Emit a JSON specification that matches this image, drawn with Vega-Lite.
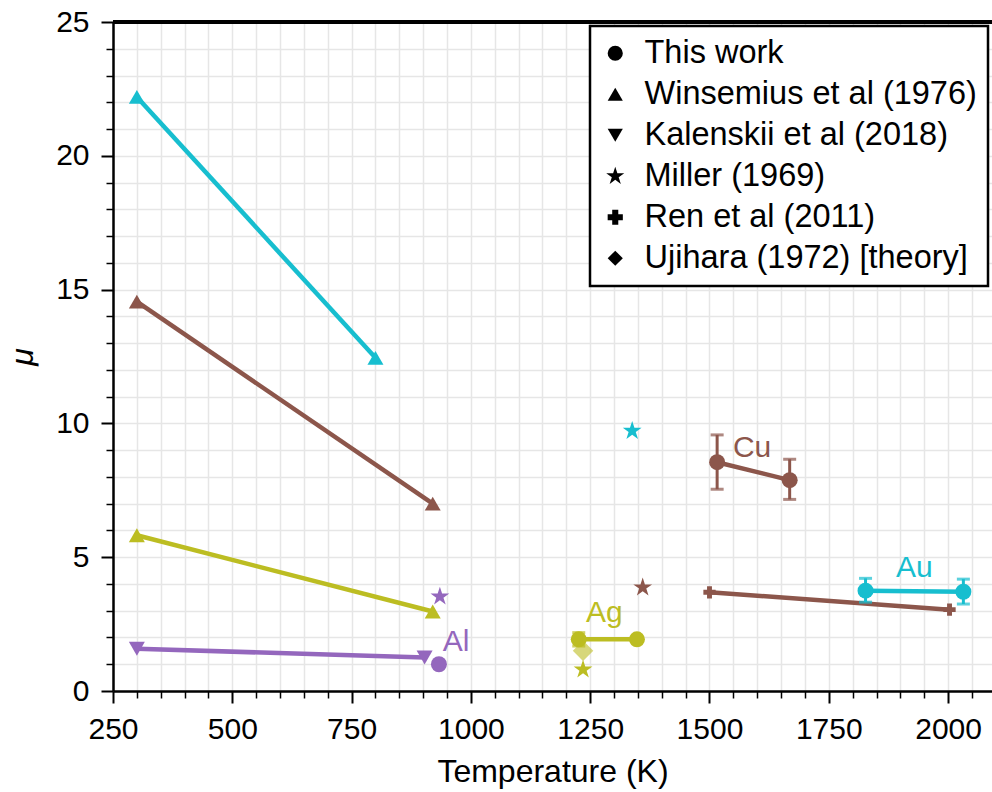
{
  "$schema": "https://vega.github.io/schema/vega-lite/v6.json",
  "width": 879,
  "height": 669,
  "autosize": {"type": "none"},
  "padding": {"left": 113, "top": 22, "right": 0, "bottom": 101},
  "background": "white",
  "config": {
    "view": {"stroke": null},
    "font": "Liberation Sans",
    "axis": {
      "labelFont": "Liberation Sans",
      "titleFont": "Liberation Sans",
      "labelColor": "black",
      "titleColor": "black",
      "titleFontWeight": "normal"
    },
    "legend": {
      "orient": "top-right",
      "offset": 4,
      "padding": 11,
      "rowPadding": 8,
      "labelFont": "Liberation Sans",
      "labelFontSize": 32.5,
      "labelColor": "black",
      "labelLimit": 0,
      "labelOffset": 13,
      "symbolOffset": -2,
      "symbolFillColor": "black",
      "symbolStrokeWidth": 0,
      "symbolSize": 230,
      "strokeColor": "black",
      "strokeWidth": 2.5,
      "fillColor": "white",
      "cornerRadius": 0
    }
  },
  "datasets": {
    "obs": [
      {"source": "This work", "element": "Al", "T": 933, "mu": 1.0},
      {"source": "This work", "element": "Ag", "T": 1226, "mu": 1.93, "lo": 1.68, "hi": 2.18},
      {"source": "This work", "element": "Ag", "T": 1348, "mu": 1.93},
      {"source": "This work", "element": "Cu", "T": 1516, "mu": 8.55, "lo": 7.54, "hi": 9.57},
      {"source": "This work", "element": "Cu", "T": 1668, "mu": 7.88, "lo": 7.16, "hi": 8.66},
      {"source": "This work", "element": "Au", "T": 1827, "mu": 3.75, "lo": 3.32, "hi": 4.21},
      {"source": "This work", "element": "Au", "T": 2032, "mu": 3.71, "lo": 3.25, "hi": 4.18},
      {"source": "Winsemius et al (1976)", "element": "Au", "T": 300, "mu": 22.2},
      {"source": "Winsemius et al (1976)", "element": "Au", "T": 800, "mu": 12.45},
      {"source": "Winsemius et al (1976)", "element": "Cu", "T": 300, "mu": 14.55},
      {"source": "Winsemius et al (1976)", "element": "Cu", "T": 920, "mu": 7.0},
      {"source": "Winsemius et al (1976)", "element": "Ag", "T": 300, "mu": 5.82},
      {"source": "Winsemius et al (1976)", "element": "Ag", "T": 920, "mu": 2.97},
      {"source": "Kalenskii et al (2018)", "element": "Al", "T": 300, "mu": 1.58},
      {"source": "Kalenskii et al (2018)", "element": "Al", "T": 903, "mu": 1.25},
      {"source": "Miller (1969)", "element": "Au", "T": 1338, "mu": 9.72},
      {"source": "Miller (1969)", "element": "Al", "T": 935, "mu": 3.53},
      {"source": "Miller (1969)", "element": "Cu", "T": 1360, "mu": 3.87},
      {"source": "Miller (1969)", "element": "Ag", "T": 1235, "mu": 0.8},
      {"source": "Ren et al (2011)", "element": "Cu", "T": 1500, "mu": 3.69},
      {"source": "Ren et al (2011)", "element": "Cu", "T": 2003, "mu": 3.04},
      {"source": "Ujihara (1972) [theory]", "element": "Ag", "T": 1235, "mu": 1.5}
    ],
    "tags": [
      {"element": "Al", "T": 941, "mu": 1.5},
      {"element": "Ag", "T": 1241, "mu": 2.58},
      {"element": "Cu", "T": 1549, "mu": 8.74},
      {"element": "Au", "T": 1891, "mu": 4.26}
    ]
  },
  "data": {"name": "obs"},
  "encoding": {
    "x": {
      "field": "T", "type": "quantitative",
      "scale": {"domain": [250, 2092], "nice": false, "zero": false},
      "axis": {
        "orient": "bottom", "title": "Temperature (K)",
        "values": [250, 300, 350, 400, 450, 500, 550, 600, 650, 700, 750, 800, 850, 900, 950, 1000, 1050, 1100, 1150, 1200, 1250, 1300, 1350, 1400, 1450, 1500, 1550, 1600, 1650, 1700, 1750, 1800, 1850, 1900, 1950, 2000, 2050],
        "labelExpr": "datum.value % 250 === 0 ? format(datum.value, 'd') : ''",
        "grid": true, "gridColor": "#e6e6e6", "gridWidth": 1.5,
        "domain": true, "domainColor": "black", "domainWidth": 2.5,
        "ticks": true, "tickColor": "black",
        "tickSize": {"condition": {"test": "datum.value % 250 === 0", "value": 12}, "value": 7},
        "tickWidth": {"condition": {"test": "datum.value % 250 === 0", "value": 2}, "value": 1.5},
        "labelFontSize": 30, "labelPadding": 11, "labelFlush": false, "labelOverlap": false,
        "titleFontSize": 32, "titlePadding": 12
      }
    },
    "y": {
      "field": "mu", "type": "quantitative",
      "scale": {"domain": [0, 25], "nice": false, "zero": false},
      "axis": {
        "orient": "left", "title": "μ",
        "values": [0, 1, 2, 3, 4, 5, 6, 7, 8, 9, 10, 11, 12, 13, 14, 15, 16, 17, 18, 19, 20, 21, 22, 23, 24, 25],
        "labelExpr": "datum.value % 5 === 0 ? format(datum.value, 'd') : ''",
        "grid": true, "gridColor": "#e6e6e6", "gridWidth": 1.5,
        "domain": true, "domainColor": "black", "domainWidth": 2.5,
        "ticks": true, "tickColor": "black",
        "tickSize": {"condition": {"test": "datum.value % 5 === 0", "value": 12}, "value": 7},
        "tickWidth": {"condition": {"test": "datum.value % 5 === 0", "value": 2}, "value": 1.5},
        "labelFontSize": 30, "labelPadding": 12, "labelFlush": false, "labelOverlap": false,
        "titleFontSize": 32, "titleFontStyle": "italic", "titlePadding": 16
      }
    }
  },
  "layer": [
    {
      "mark": {"type": "line", "strokeWidth": 4.5},
      "encoding": {
        "detail": {"field": "source", "type": "nominal"},
        "color": {
          "field": "element", "type": "nominal", "legend": null,
          "scale": {"domain": ["Al", "Ag", "Cu", "Au"], "range": ["#9467bd", "#bcbd22", "#8c564b", "#17becf"]}
        }
      }
    },
    {
      "transform": [{"filter": "isValid(datum.lo)"}],
      "mark": {"type": "rule", "strokeWidth": 3},
      "encoding": {
        "y": {"field": "lo", "type": "quantitative"},
        "y2": {"field": "hi"},
        "color": {"field": "element", "type": "nominal", "legend": null}
      }
    },
    {
      "transform": [{"filter": "isValid(datum.lo)"}],
      "mark": {"type": "tick", "orient": "horizontal", "size": 13, "thickness": 3},
      "encoding": {
        "y": {"field": "lo", "type": "quantitative"},
        "color": {"field": "element", "type": "nominal", "legend": null}
      }
    },
    {
      "transform": [{"filter": "isValid(datum.hi)"}],
      "mark": {"type": "tick", "orient": "horizontal", "size": 13, "thickness": 3},
      "encoding": {
        "y": {"field": "hi", "type": "quantitative"},
        "color": {"field": "element", "type": "nominal", "legend": null}
      }
    },
    {
      "transform": [{"filter": "datum.source === 'This work' || datum.source === 'Winsemius et al (1976)' || datum.source === 'Kalenskii et al (2018)'"}],
      "mark": {"type": "point", "filled": true, "strokeWidth": 0, "size": 256, "opacity": 1},
      "encoding": {
        "color": {"field": "element", "type": "nominal", "legend": null},
        "shape": {
          "field": "source", "type": "nominal",
          "scale": {
            "domain": ["This work", "Winsemius et al (1976)", "Kalenskii et al (2018)", "Miller (1969)", "Ren et al (2011)", "Ujihara (1972) [theory]"],
            "range": ["circle", "triangle-up", "triangle-down", "M0,-1.25L0.2806,-0.3863L1.1889,-0.3863L0.4541,0.1475L0.7347,1.0113L0,0.4775L-0.7347,1.0113L-0.4541,0.1475L-1.1889,-0.3863L-0.2806,-0.3863Z", "cross", "diamond"]
          },
          "legend": {"title": null}
        }
      }
    },
    {
      "transform": [{"filter": "datum.source === 'Miller (1969)'"}],
      "mark": {"type": "point", "filled": true, "strokeWidth": 0, "size": 250, "opacity": 1},
      "encoding": {
        "color": {"field": "element", "type": "nominal", "legend": null},
        "shape": {"field": "source", "type": "nominal"}
      }
    },
    {
      "transform": [{"filter": "datum.source === 'Ren et al (2011)'"}],
      "mark": {"type": "point", "filled": true, "strokeWidth": 0, "size": 150, "opacity": 1},
      "encoding": {
        "color": {"field": "element", "type": "nominal", "legend": null},
        "shape": {"field": "source", "type": "nominal"}
      }
    },
    {
      "transform": [{"filter": "datum.source === 'Ujihara (1972) [theory]'"}],
      "mark": {"type": "point", "filled": true, "strokeWidth": 0, "size": 420, "opacity": 0.6},
      "encoding": {
        "color": {"field": "element", "type": "nominal", "legend": null},
        "shape": {"field": "source", "type": "nominal"}
      }
    },
    {
      "data": {"name": "tags"},
      "mark": {"type": "text", "align": "left", "baseline": "alphabetic", "fontSize": 30, "font": "Liberation Sans"},
      "encoding": {
        "text": {"field": "element"},
        "color": {"field": "element", "type": "nominal", "legend": null}
      }
    },
    {
      "mark": {"type": "rule", "strokeWidth": 2.5, "color": "black"},
      "encoding": {"x": null, "y": {"datum": 25}}
    }
  ]
}
